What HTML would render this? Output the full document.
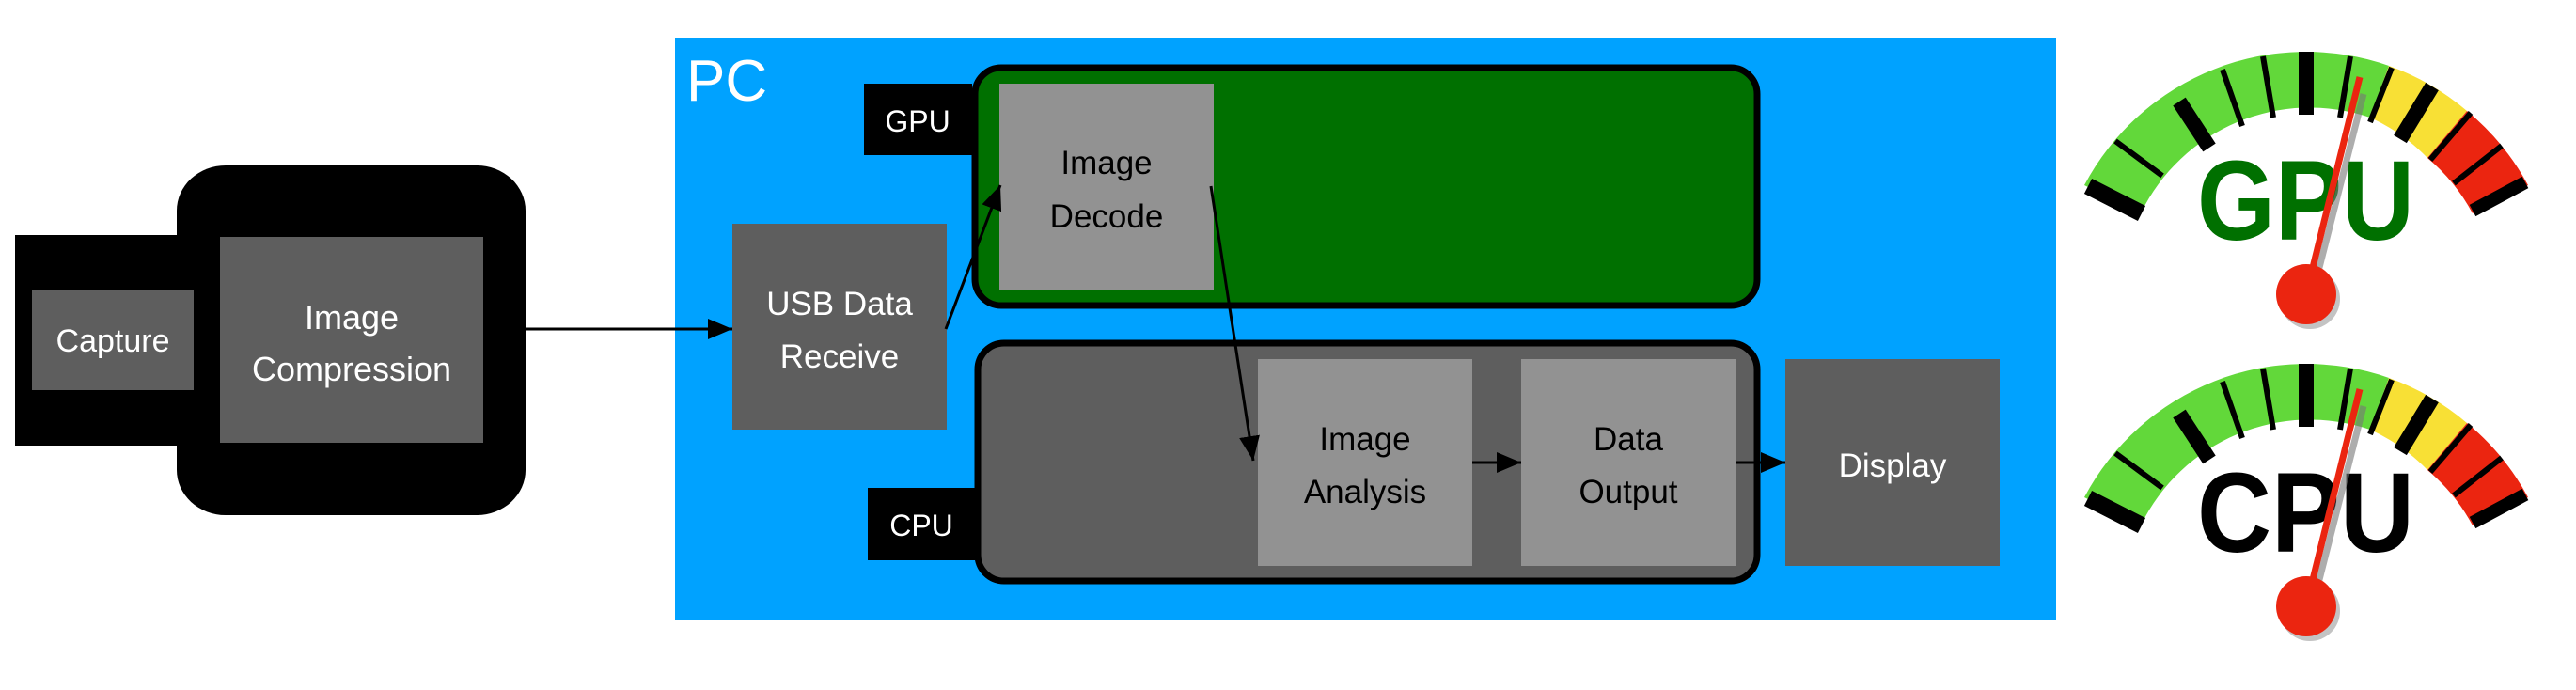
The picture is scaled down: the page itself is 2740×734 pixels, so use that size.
<!DOCTYPE html>
<html><head><meta charset="utf-8"><style>
html,body{margin:0;padding:0;background:#fff;}
svg{display:block;}
text{font-family:"Liberation Sans",sans-serif;}
</style></head><body>
<svg width="2740" height="734" viewBox="0 0 2740 734" xmlns="http://www.w3.org/2000/svg">
<defs>
<marker id="ah" markerWidth="26" markerHeight="22" refX="26" refY="11" orient="auto" markerUnits="userSpaceOnUse" viewBox="0 0 26 22">
<path d="M0,0 L26,11 L0,22 z" fill="#000"/>
</marker>
<g id="gauge">
  <path d="M2217,197 A267,267 0 0 1 2541,70 L2521,125 A200,200 0 0 0 2277,227 Z" fill="#62D83A"/>
  <path d="M2541,70 A267,267 0 0 1 2624,118 L2582,168 A200,200 0 0 0 2521,125 Z" fill="#F8E035"/>
  <path d="M2624,118 A267,267 0 0 1 2689,197 L2630,227 A200,200 0 0 0 2582,168 Z" fill="#EB2510"/>
  <g stroke="#000">
    <line x1="2221" y1="198" x2="2278" y2="227" stroke-width="18"/>
    <line x1="2250" y1="150" x2="2300" y2="187" stroke-width="6"/>
    <line x1="2318" y1="108" x2="2350" y2="157" stroke-width="16"/>
    <line x1="2364" y1="74" x2="2385" y2="134" stroke-width="6"/>
    <line x1="2407" y1="60" x2="2418" y2="125" stroke-width="6"/>
    <line x1="2453" y1="55" x2="2453" y2="122" stroke-width="16"/>
    <line x1="2500" y1="60" x2="2489" y2="125" stroke-width="6"/>
    <line x1="2544" y1="72" x2="2521" y2="130" stroke-width="6"/>
    <line x1="2587" y1="92" x2="2553" y2="148" stroke-width="16"/>
    <line x1="2628" y1="120" x2="2585" y2="170" stroke-width="6"/>
    <line x1="2661" y1="155" x2="2610" y2="195" stroke-width="6"/>
    <line x1="2686" y1="194" x2="2630" y2="224" stroke-width="14"/>
  </g>
</g>
<g id="needle">
  <line x1="2459" y1="316" x2="2514" y2="100" stroke="#777" stroke-width="7" opacity="0.6"/>
  <circle cx="2457" cy="318" r="32" fill="#888" opacity="0.5"/>
  <line x1="2453" y1="313" x2="2510" y2="82" stroke="#EB2510" stroke-width="7"/>
  <circle cx="2453" cy="313" r="32" fill="#EB2510"/>
</g>
</defs>

<!-- Left device -->
<rect x="16" y="250" width="200" height="224" fill="#000"/>
<rect x="188" y="176" width="371" height="372" rx="52" ry="48" fill="#000"/>
<rect x="34" y="309" width="172" height="106" fill="#5E5E5E"/>
<text x="120" y="374" font-size="34" fill="#fff" text-anchor="middle">Capture</text>
<rect x="234" y="252" width="280" height="219" fill="#5E5E5E"/>
<text x="374" y="350" font-size="36" fill="#fff" text-anchor="middle">Image</text>
<text x="374" y="405" font-size="36" fill="#fff" text-anchor="middle">Compression</text>

<!-- PC -->
<rect x="718" y="40" width="1469" height="620" fill="#00A2FF"/>
<text x="730" y="107" font-size="62" fill="#fff">PC</text>
<line x1="559" y1="350" x2="779" y2="350" stroke="#000" stroke-width="3" marker-end="url(#ah)"/>

<rect x="919" y="89" width="115" height="76" fill="#000"/>
<text x="976" y="140" font-size="32" fill="#fff" text-anchor="middle">GPU</text>
<rect x="1037" y="72" width="832" height="253" rx="28" fill="#007000" stroke="#000" stroke-width="7"/>
<rect x="1063" y="89" width="228" height="220" fill="#929292"/>
<text x="1177" y="185" font-size="35" fill="#000" text-anchor="middle">Image</text>
<text x="1177" y="242" font-size="35" fill="#000" text-anchor="middle">Decode</text>

<rect x="923" y="519" width="114" height="77" fill="#000"/>
<text x="980" y="570" font-size="32" fill="#fff" text-anchor="middle">CPU</text>
<rect x="1040" y="365" width="829" height="253" rx="28" fill="#5E5E5E" stroke="#000" stroke-width="7"/>

<rect x="779" y="238" width="228" height="219" fill="#5E5E5E"/>
<text x="893" y="335" font-size="35" fill="#fff" text-anchor="middle">USB Data</text>
<text x="893" y="391" font-size="35" fill="#fff" text-anchor="middle">Receive</text>

<rect x="1338" y="382" width="228" height="220" fill="#929292"/>
<text x="1452" y="479" font-size="35" fill="#000" text-anchor="middle">Image</text>
<text x="1452" y="535" font-size="35" fill="#000" text-anchor="middle">Analysis</text>
<rect x="1618" y="382" width="228" height="220" fill="#929292"/>
<text x="1732" y="479" font-size="35" fill="#000" text-anchor="middle">Data</text>
<text x="1732" y="535" font-size="35" fill="#000" text-anchor="middle">Output</text>
<rect x="1899" y="382" width="228" height="220" fill="#5E5E5E"/>
<text x="2013" y="507" font-size="35" fill="#fff" text-anchor="middle">Display</text>

<line x1="1006" y1="350" x2="1064" y2="197" stroke="#000" stroke-width="3" marker-end="url(#ah)"/>
<line x1="1288" y1="198" x2="1333" y2="490" stroke="#000" stroke-width="3" marker-end="url(#ah)"/>
<line x1="1566" y1="492" x2="1618" y2="492" stroke="#000" stroke-width="3" marker-end="url(#ah)"/>
<line x1="1846" y1="492" x2="1899" y2="492" stroke="#000" stroke-width="3" marker-end="url(#ah)"/>

<!-- Gauges -->
<use href="#gauge"/>
<text x="2337" y="255" font-size="121" font-weight="bold" fill="#007000" textLength="231" lengthAdjust="spacingAndGlyphs">GPU</text>
<use href="#needle"/>

<g transform="translate(0,332)">
<use href="#gauge"/>
<text x="2337" y="255" font-size="121" font-weight="bold" fill="#000" textLength="231" lengthAdjust="spacingAndGlyphs">CPU</text>
<use href="#needle"/>
</g>
</svg>
</body></html>
